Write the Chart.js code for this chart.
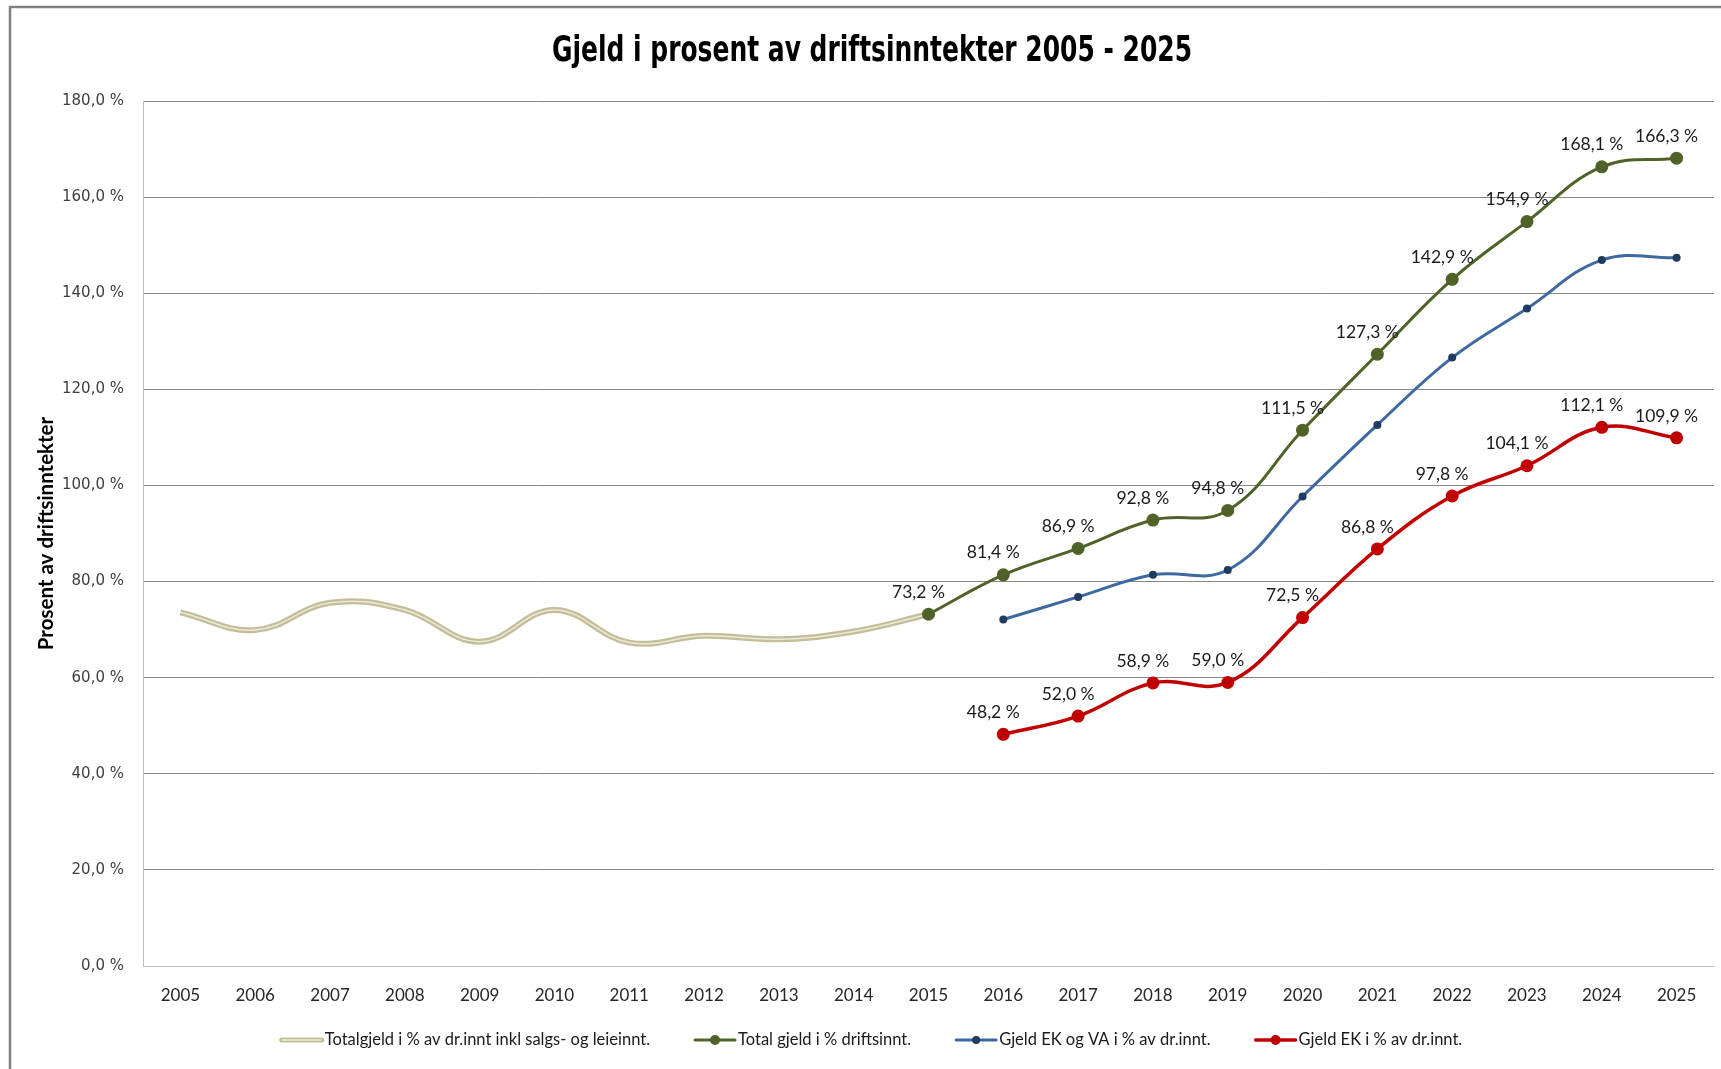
<!DOCTYPE html>
<html>
<head>
<meta charset="utf-8">
<script src="https://cdn.jsdelivr.net/npm/chart.js@4.4.0/dist/chart.umd.min.js"></script>
<style>
    html, body { margin: 0; padding: 0; background: #fff; }
    canvas { display: block; }
</style>
</head>
<body>
<canvas id="myChart" width="1721" height="1069"></canvas>
<script>
// Years on the x axis
const years = ['2005', '2006', '2007', '2008', '2009', '2010', '2011', '2012', '2013', '2014', '2015',
    '2016', '2017', '2018', '2019', '2020', '2021', '2022', '2023', '2024', '2025'];

// Series values (% of operating income)
const totalInklLeie = [73.6, 69.9, 75.6, 74.1, 67.5, 74.1, 67.3, 68.7, 68.0, 69.6, 73.2,
    null, null, null, null, null, null, null, null, null, null];
const totalGjeld = [null, null, null, null, null, null, null, null, null, null, 73.2,
    81.4, 86.9, 92.8, 94.8, 111.5, 127.3, 142.9, 154.9, 166.3, 168.1];
const gjeldEkVa = [null, null, null, null, null, null, null, null, null, null, null,
    72.1, 76.8, 81.4, 82.4, 97.7, 112.6, 126.6, 136.8, 146.9, 147.4];
const gjeldEk = [null, null, null, null, null, null, null, null, null, null, null,
    48.2, 52.0, 58.9, 59.0, 72.5, 86.8, 97.8, 104.1, 112.1, 109.9];

// Data label texts as printed in the chart
const totalGjeldLabels = [null, null, null, null, null, null, null, null, null, null, '73,2 %',
    '81,4 %', '86,9 %', '92,8 %', '94,8 %', '111,5 %', '127,3 %', '142,9 %', '154,9 %', '168,1 %', '166,3 %'];
const gjeldEkLabels = [null, null, null, null, null, null, null, null, null, null, null,
    '48,2 %', '52,0 %', '58,9 %', '59,0 %', '72,5 %', '86,8 %', '97,8 %', '104,1 %', '112,1 %', '109,9 %'];

const yTicks = [0, 20, 40, 60, 80, 100, 120, 140, 160, 180];

// frame round the whole chart + the title
const framePlugin = {
    id: 'frame',
    beforeDraw(chart) {
        const ctx = chart.ctx;
        ctx.save();
        ctx.fillStyle = '#ffffff';
        ctx.fillRect(0, 0, chart.width, chart.height);
        ctx.strokeStyle = '#7f7f7f';
        ctx.lineWidth = 2.5;
        ctx.strokeRect(10, 7, 1900, 1300);
        ctx.restore();
    },
    afterDraw(chart) {
        const ctx = chart.ctx;
        const title = 'Gjeld i prosent av driftsinntekter 2005 - 2025';
        ctx.save();
        ctx.font = 'bold 35px "DejaVu Sans Condensed", "Liberation Sans", sans-serif';
        ctx.fillStyle = '#000';
        ctx.textAlign = 'center';
        ctx.textBaseline = 'middle';
        // the original title is a narrow font, squeeze it to the same width
        const sx = 640 / ctx.measureText(title).width;
        ctx.translate(872, 52);
        ctx.scale(sx, 1);
        ctx.fillText(title, 0, 0);
        ctx.restore();
    }
};

// value labels above the points
const dataLabelPlugin = {
    id: 'dataLabels',
    afterDatasetsDraw(chart) {
        const ctx = chart.ctx;
        ctx.save();
        ctx.font = '17.5px Lato';
        ctx.fillStyle = '#1a1a1a';
        ctx.textAlign = 'center';
        ctx.textBaseline = 'middle';
        chart.data.datasets.forEach((ds, i) => {
            if (!ds.valueLabels) return;
            const meta = chart.getDatasetMeta(i);
            meta.data.forEach((pt, j) => {
                const txt = ds.valueLabels[j];
                if (!txt || ds.data[j] == null) return;
                ctx.fillText(txt, pt.x - 10, pt.y - 22);
            });
        });
        ctx.restore();
    }
};

// Excel style legend: line with marker, centred under the chart
const legendPlugin = {
    id: 'excelLegend',
    afterDraw(chart) {
        const ctx = chart.ctx;
        const items = chart.data.datasets.filter(d => d.legendText);
        ctx.save();
        ctx.font = '16.5px Lato';
        const lineLen = 40, textGap = 3, itemGap = 45;
        const widths = items.map(d => ctx.measureText(d.legendText).width);
        let total = 0;
        widths.forEach(w => { total += lineLen + textGap + w; });
        total += itemGap * (items.length - 1);
        let x = 872 - total / 2;
        const y = 1040;
        items.forEach((d, k) => {
            ctx.lineCap = 'round';
            ctx.strokeStyle = d.borderColor;
            ctx.lineWidth = Math.min(d.borderWidth, 5);
            ctx.beginPath();
            ctx.moveTo(x, y);
            ctx.lineTo(x + lineLen, y);
            ctx.stroke();
            if (d.legendHighlight) {
                ctx.strokeStyle = d.legendHighlight;
                ctx.lineWidth = 1.5;
                ctx.beginPath();
                ctx.moveTo(x + 1, y);
                ctx.lineTo(x + lineLen - 1, y);
                ctx.stroke();
            }
            if (d.pointRadius > 0) {
                ctx.fillStyle = d.pointBackgroundColor;
                ctx.beginPath();
                ctx.arc(x + lineLen / 2, y, Math.min(d.pointRadius, 5), 0, Math.PI * 2);
                ctx.fill();
            }
            ctx.fillStyle = '#1a1a1a';
            ctx.textAlign = 'left';
            ctx.textBaseline = 'middle';
            ctx.fillText(d.legendText, x + lineLen + textGap, y);
            x += lineLen + textGap + widths[k] + itemGap;
        });
        ctx.restore();
    }
};

const ctx = document.getElementById('myChart').getContext('2d');

const myChart = new Chart(ctx, {
    type: 'line',
    data: {
        labels: years,
        datasets: [
            {
                label: 'Totalgjeld i % av dr.innt inkl salgs- og leieinnt.',
                legendText: 'Totalgjeld i % av dr.innt inkl salgs- og leieinnt.',
                legendHighlight: '#eeebdf',
                data: totalInklLeie,
                borderColor: '#c4bd97',
                borderWidth: 6,
                pointRadius: 0,
                tension: 0.4,
                order: 5
            },
            {
                label: 'highlight',
                data: totalInklLeie,
                borderColor: '#ece9dc',
                borderWidth: 1.5,
                pointRadius: 0,
                tension: 0.4,
                order: 4
            },
            {
                label: 'Total gjeld i % driftsinnt.',
                legendText: 'Total gjeld i % driftsinnt.',
                data: totalGjeld,
                valueLabels: totalGjeldLabels,
                borderColor: '#4f6228',
                borderWidth: 3,
                pointRadius: 6.5,
                pointBackgroundColor: '#4f6228',
                pointBorderColor: '#4f6228',
                pointBorderWidth: 0,
                tension: 0.4,
                order: 3
            },
            {
                label: 'Gjeld EK og VA i % av dr.innt.',
                legendText: 'Gjeld EK og VA i % av dr.innt.',
                data: gjeldEkVa,
                borderColor: '#3d69a0',
                borderWidth: 3,
                pointRadius: 4,
                pointBackgroundColor: '#1f3b61',
                pointBorderColor: '#1f3b61',
                pointBorderWidth: 0,
                tension: 0.4,
                order: 2
            },
            {
                label: 'Gjeld EK i % av dr.innt.',
                legendText: 'Gjeld EK i % av dr.innt.',
                data: gjeldEk,
                valueLabels: gjeldEkLabels,
                borderColor: '#c00000',
                borderWidth: 3.5,
                pointRadius: 6.5,
                pointBackgroundColor: '#c00000',
                pointBorderColor: '#c00000',
                pointBorderWidth: 0,
                tension: 0.4,
                order: 1
            }
        ]
    },
    options: {
        responsive: false,
        animation: false,
        layout: { padding: { top: 101, right: 7, left: 0, bottom: 0 } },
        plugins: {
            legend: { display: false },
            title: { display: false },
            tooltip: { enabled: false }
        },
        scales: {
            x: {
                offset: true,
                grid: { display: false, drawTicks: false },
                border: { color: '#bfbfbf' },
                ticks: {
                    font: { family: 'Lato', size: 17 },
                    color: '#262626',
                    padding: 19,
                    maxRotation: 0,
                    autoSkip: false
                },
                afterFit(scale) { scale.height = 103; }
            },
            y: {
                min: 0,
                max: 180,
                afterBuildTicks(scale) { scale.ticks = yTicks.map(v => ({ value: v })); },
                ticks: {
                    callback: v => v.toFixed(1).replace('.', ',') + ' %',
                    font: { family: 'DejaVu Sans', size: 15 },
                    color: '#404040',
                    padding: 19
                },
                grid: { color: '#868686', drawTicks: false },
                border: { color: '#bfbfbf' },
                title: {
                    display: true,
                    text: 'Prosent av driftsinntekter',
                    font: { family: 'Lato', size: 20.5, weight: 'bold' },
                    color: '#000',
                    padding: { top: 34, bottom: 0 }
                },
                afterFit(scale) { scale.width = 143; }
            }
        }
    },
    plugins: [framePlugin, dataLabelPlugin, legendPlugin]
});
</script>
</body>
</html>
